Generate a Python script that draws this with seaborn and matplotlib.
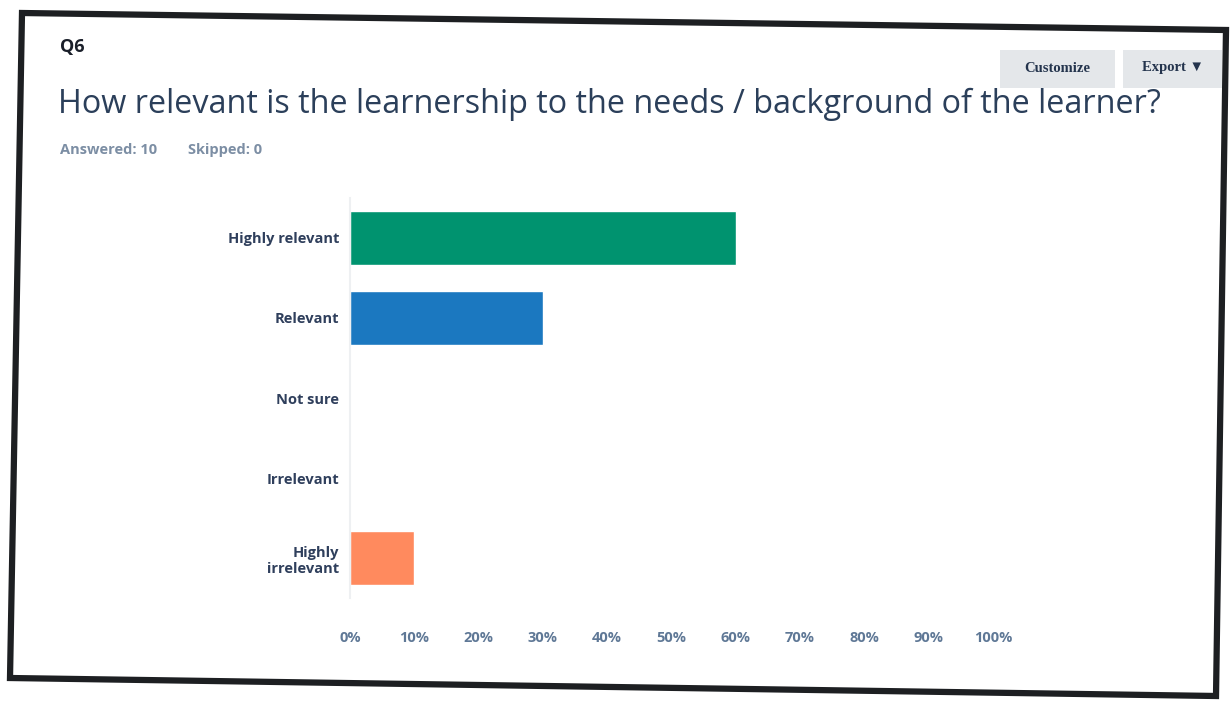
import matplotlib
matplotlib.use("Agg")
import matplotlib.pyplot as plt
from matplotlib.patches import Polygon, FancyBboxPatch
from matplotlib.ticker import PercentFormatter
import seaborn as sns
import pandas as pd

# Survey results for Q6
question_no = "Q6"
question = "How relevant is the learnership to the needs / background of the learner?"
answered = 10
skipped = 0
choices = ["Highly relevant", "Relevant", "Not sure", "Irrelevant", "Highly\nirrelevant"]
shares = [60, 30, 0, 0, 10]
bar_colors = ["#00936f", "#1b78c0", "#6f8fae", "#9aa5b1", "#ff8a5e"]
tick_values = [0, 10, 20, 30, 40, 50, 60, 70, 80, 90, 100]

sns.set_theme(style="white")
plt.rcParams["font.family"] = ["Open Sans", "DejaVu Sans"]

W, H = 1231, 703
fig = plt.figure(figsize=(W / 100, H / 100), dpi=100)
fig.patch.set_facecolor("white")

df = pd.DataFrame({"choice": choices, "share": shares})

ax = fig.add_axes([350 / W, 1 - 598 / H, (993 - 350) / W, (598 - 198) / H])
sns.barplot(data=df, x="share", y="choice", hue="choice", palette=bar_colors,
            legend=False, width=0.68, saturation=1, ax=ax)

ax.set_xlim(0, 100)
ax.set_xticks(tick_values)
ax.xaxis.set_major_formatter(PercentFormatter(100, decimals=0))
ax.set_xlabel("")
ax.set_ylabel("")
for s in ["top", "right", "bottom"]:
    ax.spines[s].set_visible(False)
ax.spines["left"].set_color("#eef0f2")
ax.spines["left"].set_linewidth(1.5)
ax.tick_params(axis="x", length=0, pad=24, labelsize=10.5, labelcolor="#5f7896")
ax.tick_params(axis="y", length=0, pad=8, labelsize=10.5, labelcolor="#2f3f5c")
for lbl in ax.get_yticklabels():
    lbl.set_fontweight("bold")
    lbl.set_horizontalalignment("right")
    lbl.set_multialignment("right")
for lbl in ax.get_xticklabels():
    lbl.set_fontweight("bold")


def px(x, y):
    return x / W, 1 - y / H


# Header texts
fig.text(*px(60, 47), question_no, fontsize=13, fontweight="bold",
         color="#1a1f2a", va="center", ha="left")
fig.text(*px(58, 104), question, fontsize=23.3, color="#2b3f5a",
         va="center", ha="left")
fig.text(*px(60, 150), f"Answered: {answered}", fontsize=10.5,
         fontweight="bold", color="#7c8ea4", va="center", ha="left")
fig.text(*px(188, 150), f"Skipped: {skipped}", fontsize=10.5,
         fontweight="bold", color="#7c8ea4", va="center", ha="left")

# Toolbar buttons
for (x0, x1, label) in [(1000, 1115, "Customize"), (1123, 1222, "Export \u25bc")]:
    fig.patches.append(FancyBboxPatch(px(x0, 88), (x1 - x0) / W, 38 / H,
                                      boxstyle="square,pad=0",
                                      transform=fig.transFigure,
                                      facecolor="#e4e7ea", edgecolor="none",
                                      zorder=0))
    fig.text(*px((x0 + x1) / 2, 68), label, fontsize=10.5, fontweight="bold",
             color="#24344d", va="center", ha="center",
             family=["Liberation Serif", "DejaVu Sans"])

# Page frame
frame = Polygon([px(22, 13), px(1226, 30), px(1216, 696), px(10, 678)],
                closed=True, fill=False, edgecolor="#1d1f22", linewidth=4.5,
                transform=fig.transFigure, zorder=5)
fig.patches.append(frame)

fig.savefig("out.png", dpi=100, facecolor="white")
